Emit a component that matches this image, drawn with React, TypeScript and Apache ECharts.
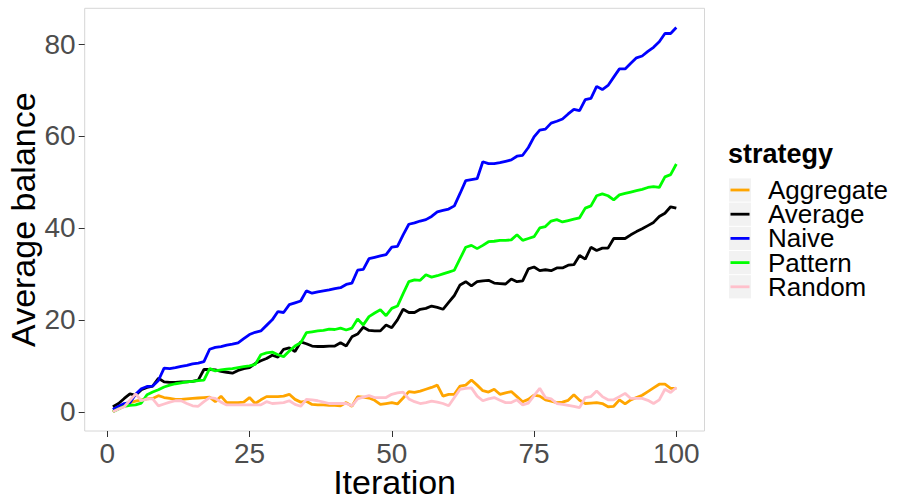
import React, { useEffect, useRef } from "react";
import * as echarts from "echarts";

// Average balance per iteration for each trading strategy
const strategies = ["Aggregate", "Average", "Naive", "Pattern", "Random"];
const strategyColors = ["#FFA500", "#000000", "#0000FF", "#00FF00", "#FFC0CB"];

const iterations = Array.from({ length: 100 }, (_, i) => i + 1);

const aggregate = [
  0.0, 0.9, 1.5, 2.0, 2.3, 2.6, 2.8, 2.9, 3.5, 3.1,
  2.9, 2.7, 2.7, 2.8, 2.9, 3.0, 3.1, 3.2, 2.2, 3.4,
  2.0, 2.0, 2.0, 2.1, 3.1, 1.8, 2.6, 3.3, 3.3, 3.3,
  3.4, 3.8, 2.7, 2.1, 2.3, 1.6, 1.5, 1.5, 1.4, 1.4,
  1.3, 2.0, 1.2, 3.3, 3.2, 3.0, 2.5, 1.6, 1.8, 2.0,
  1.7, 3.0, 4.4, 4.2, 4.5, 4.9, 5.3, 5.8, 3.4, 3.8,
  3.8, 5.6, 5.8, 6.9, 5.8, 4.6, 4.3, 4.9, 3.8, 4.1,
  4.4, 3.3, 2.2, 2.7, 3.6, 3.4, 2.6, 2.3, 2.0, 2.1,
  2.5, 3.7, 2.5, 1.8, 1.9, 2.0, 1.8, 1.1, 1.2, 2.6,
  1.7, 2.6, 3.1, 3.6, 4.4, 5.2, 6.0, 6.0, 5.1, 5.1,
];

const average = [
  1.1, 1.8, 2.9, 3.9, 3.6, 4.8, 5.3, 5.6, 7.3, 6.5,
  6.4, 6.4, 6.5, 6.5, 6.6, 6.9, 9.2, 9.2, 9.1, 8.8,
  8.6, 8.4, 9.0, 9.4, 9.6, 10.5, 11.1, 11.6, 12.3, 11.9,
  13.6, 13.9, 13.1, 15.2, 14.8, 14.3, 14.2, 14.2, 14.3, 14.3,
  15.0, 14.3, 16.3, 16.9, 18.4, 17.7, 17.6, 17.6, 18.9, 18.3,
  20.0, 22.3, 21.6, 21.6, 22.3, 22.5, 23.0, 22.7, 22.3, 23.8,
  25.3, 27.6, 28.3, 27.4, 28.3, 28.5, 28.6, 28.0, 27.9, 27.8,
  28.9, 28.3, 28.5, 31.1, 31.5, 30.7, 30.9, 30.7, 31.3, 31.3,
  31.9, 32.0, 34.0, 33.2, 35.8, 35.1, 35.6, 35.6, 37.7, 37.7,
  37.7, 38.5, 39.2, 39.8, 40.5, 41.2, 42.5, 43.2, 44.6, 44.3,
];

const naive = [
  0.5, 1.2, 1.8, 2.0, 3.8, 5.0, 5.5, 5.6, 6.8, 9.5,
  9.4, 9.6, 9.9, 10.1, 10.4, 10.6, 10.9, 13.6, 14.0, 14.2,
  14.5, 14.7, 15.0, 15.9, 16.8, 17.3, 17.6, 18.8, 20.0, 21.8,
  21.6, 23.3, 23.7, 24.1, 26.3, 25.8, 26.1, 26.3, 26.5, 26.8,
  27.0, 27.7, 28.0, 30.8, 31.0, 33.3, 33.6, 33.9, 34.2, 35.8,
  36.0, 38.5, 40.8, 41.1, 41.5, 41.8, 42.5, 43.5, 43.8, 44.1,
  44.8, 47.5, 50.3, 50.5, 50.7, 54.4, 54.0, 54.0, 54.2, 54.5,
  54.8, 55.6, 55.8, 57.5, 59.8, 61.3, 61.5, 62.8, 63.2, 63.7,
  64.8, 65.8, 65.5, 67.9, 68.2, 70.8, 70.1, 71.0, 72.8, 74.6,
  74.6, 75.8, 77.0, 77.4, 78.4, 79.3, 80.5, 82.3, 82.3, 83.6,
];

const pattern = [
  0.0, 0.6, 1.2, 1.4, 1.5, 1.9, 3.7, 4.3, 4.8, 5.4,
  5.8, 6.1, 6.3, 6.5, 6.6, 6.8, 6.9, 9.4, 8.9, 9.1,
  9.3, 9.4, 9.6, 9.8, 10.0, 10.3, 12.4, 12.8, 13.0, 12.4,
  12.0, 13.2, 14.3, 15.0, 17.2, 17.4, 17.6, 17.7, 18.0, 17.9,
  18.2, 17.8, 18.2, 20.2, 18.9, 20.7, 21.5, 22.2, 20.9, 22.5,
  23.0, 25.7, 28.3, 28.7, 28.6, 29.8, 29.3, 29.6, 30.0, 30.4,
  30.8, 33.3, 35.8, 36.2, 35.5, 36.2, 37.0, 37.1, 37.3, 37.3,
  37.4, 38.5, 37.3, 37.7, 38.1, 40.0, 40.3, 41.5, 41.8, 41.3,
  41.6, 41.9, 42.2, 44.3, 44.8, 47.0, 47.4, 47.0, 46.1, 47.2,
  47.5, 47.8, 48.1, 48.4, 48.8, 49.0, 48.8, 51.1, 51.6, 53.9,
];

const random = [
  0.0, 0.6, 1.1, 2.5, 3.9, 2.4, 2.8, 2.8, 1.3, 1.7,
  2.1, 2.4, 2.4, 1.8, 1.3, 1.2, 2.2, 3.1, 2.9, 2.1,
  1.5, 1.5, 1.5, 1.5, 1.5, 1.5, 1.5, 2.2, 1.8, 1.9,
  2.0, 2.4, 1.6, 1.2, 2.7, 2.6, 2.4, 2.1, 1.8, 1.8,
  1.8, 1.8, 1.3, 2.8, 3.2, 3.5, 3.1, 3.1, 3.1, 3.8,
  4.1, 4.3, 2.8, 2.2, 1.8, 2.0, 2.3, 2.1, 1.8, 1.3,
  3.1, 4.9, 5.1, 5.2, 3.4, 2.4, 2.8, 3.1, 2.5, 2.0,
  2.0, 2.6, 1.5, 1.9, 3.5, 5.1, 3.1, 2.8, 1.8, 1.6,
  1.4, 1.2, 0.9, 3.1, 3.3, 4.5, 3.3, 2.6, 2.6, 3.3,
  4.0, 2.9, 2.9, 2.9, 2.5, 1.8, 2.6, 4.9, 4.2, 5.3,
];

const seriesValues = [aggregate, average, naive, pattern, random];

const xTicks = [0, 25, 50, 75, 100];
const yTicks = [0, 20, 40, 60, 80];

const FONT = "'Liberation Sans', Arial, Helvetica, sans-serif";

export default function App() {
  const ref = useRef<HTMLDivElement>(null);

  useEffect(() => {
    if (!ref.current) return;
    const chart = echarts.init(ref.current, undefined, { renderer: "svg" });

    // data ranges padded by 5% on each side
    const xMinData = Math.min(...iterations);
    const xMaxData = Math.max(...iterations);
    const xPad = (xMaxData - xMinData) * 0.05;
    const all = seriesValues.flat();
    const yMinData = Math.min(...all);
    const yMaxData = Math.max(...all);
    const yPad = (yMaxData - yMinData) * 0.05;

    // legend drawn as keys with a grey background, ggplot style
    const legendLeft = 729;
    const legendTop = 190;
    const legendStep = 24.2;
    const legendGraphics: any[] = [
      {
        type: "text",
        x: 728,
        y: 154,
        style: {
          text: "strategy",
          font: `bold 27px ${FONT}`,
          fill: "#000000",
          verticalAlign: "middle",
        },
      },
    ];
    strategies.forEach((name, i) => {
      const cy = legendTop + i * legendStep;
      legendGraphics.push({
        type: "rect",
        shape: { x: legendLeft, y: cy - 11.6, width: 22, height: 23.2 },
        style: { fill: "#f2f2f2" },
      });
      legendGraphics.push({
        type: "line",
        shape: { x1: legendLeft + 1.5, y1: cy, x2: legendLeft + 20.5, y2: cy },
        style: { stroke: strategyColors[i], lineWidth: 2.8 },
      });
      legendGraphics.push({
        type: "text",
        x: 768,
        y: cy,
        style: {
          text: name,
          font: `26px ${FONT}`,
          lineHeight: 23,
          fill: "#000000",
          verticalAlign: "middle",
        },
      });
    });

    chart.setOption({
      animation: false,
      backgroundColor: "#ffffff",
      textStyle: { fontFamily: FONT },
      grid: {
        left: 84.7,
        right: 193.5,
        top: 8.3,
        bottom: 66,
        containLabel: false,
        outerBoundsMode: "none",
        show: true,
        borderColor: "#d6d6d6",
        borderWidth: 1,
        backgroundColor: "#ffffff",
      },
      xAxis: {
        type: "value",
        min: xMinData - xPad,
        max: xMaxData + xPad,
        name: "Iteration",
        nameLocation: "middle",
        nameGap: 34,
        nameMoveOverlap: false,
        nameTextStyle: { fontSize: 34, color: "#000000", fontFamily: FONT },
        axisLine: { show: false, onZero: false },
        axisTick: {
          show: true,
          length: 6,
          customValues: xTicks,
          lineStyle: { color: "#333333", width: 1 },
        },
        axisLabel: {
          customValues: xTicks,
          fontSize: 28,
          color: "#4d4d4d",
          margin: 8,
          fontFamily: FONT,
        },
        splitLine: { show: false },
      },
      yAxis: {
        type: "value",
        min: yMinData - yPad,
        max: yMaxData + yPad,
        name: "Average balance",
        nameLocation: "middle",
        nameRotate: 90,
        nameGap: 45,
        nameMoveOverlap: false,
        nameTextStyle: { fontSize: 34, color: "#000000", fontFamily: FONT },
        axisLine: { show: false, onZero: false },
        axisTick: {
          show: true,
          length: 6,
          customValues: yTicks,
          lineStyle: { color: "#333333", width: 1 },
        },
        axisLabel: {
          customValues: yTicks,
          fontSize: 28,
          color: "#4d4d4d",
          margin: 9,
          fontFamily: FONT,
        },
        splitLine: { show: false },
      },
      series: strategies.map((name, i) => ({
        name,
        type: "line",
        data: iterations.map((it, j) => [it, seriesValues[i][j]]),
        showSymbol: false,
        symbol: "none",
        lineStyle: { color: strategyColors[i], width: 2.8 },
        itemStyle: { color: strategyColors[i] },
        z: 2 + i,
      })),
      graphic: legendGraphics,
    });

    return () => chart.dispose();
  }, []);

  return (
    <div
      ref={ref}
      style={{ position: "fixed", left: 0, top: 0, width: 898, height: 497 }}
    />
  );
}
